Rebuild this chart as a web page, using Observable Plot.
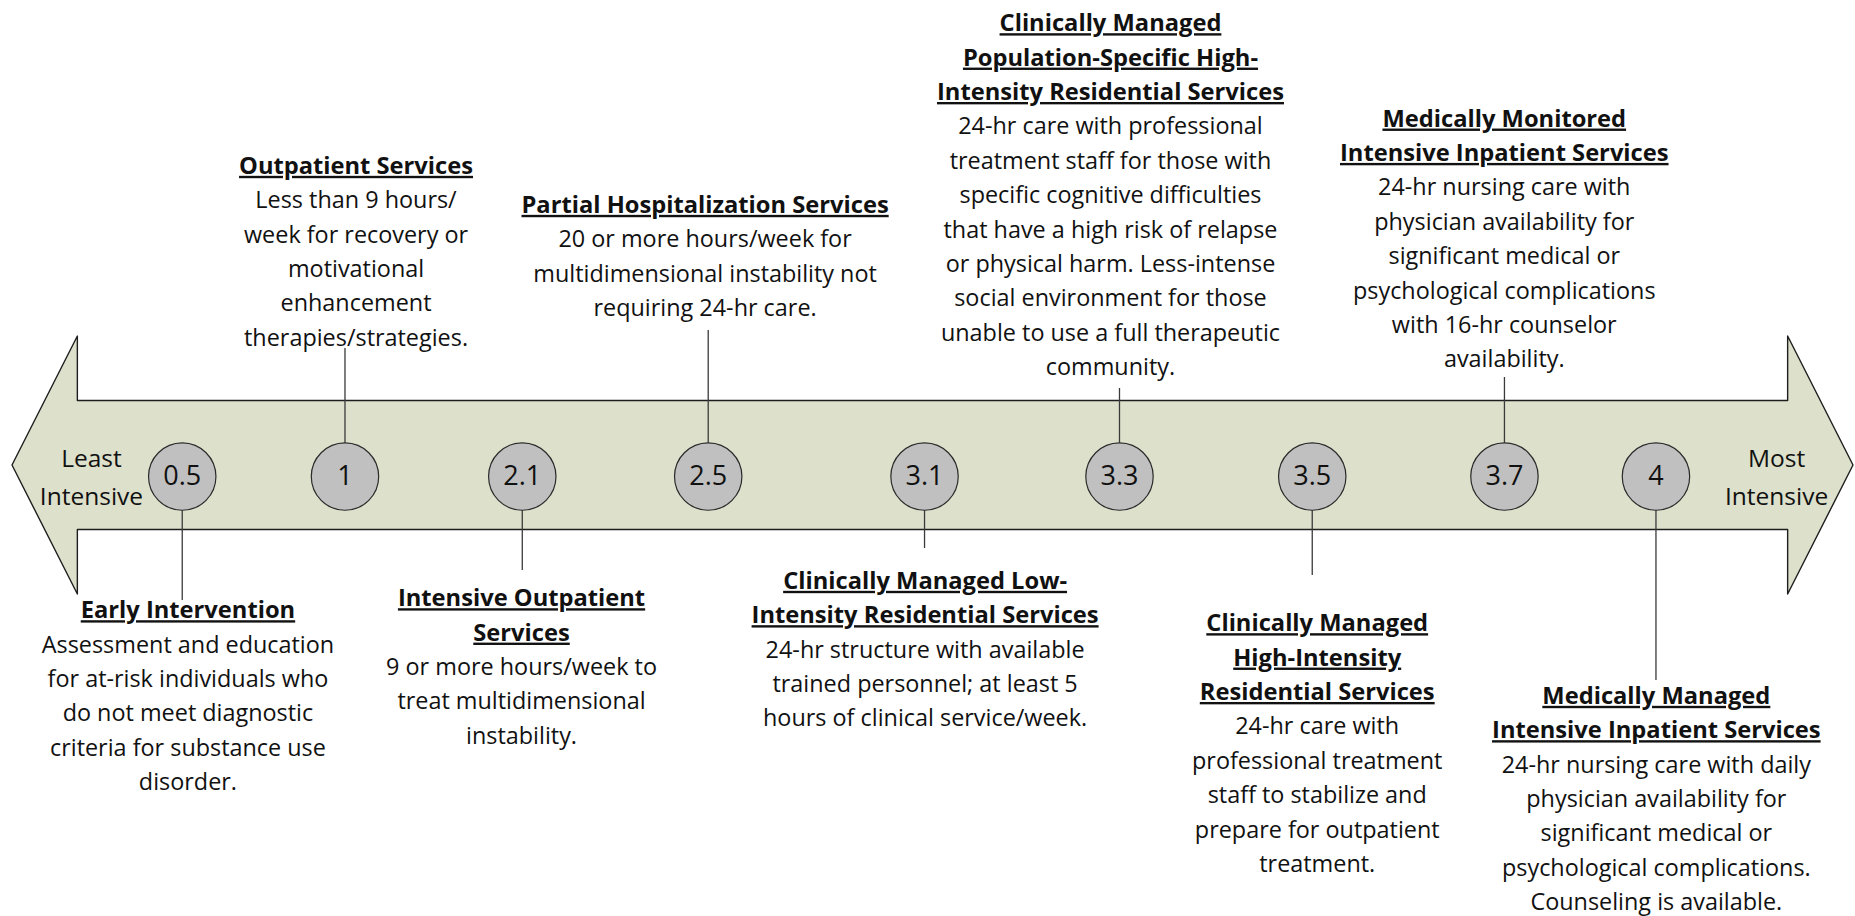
<!DOCTYPE html>
<html>
<head>
<meta charset="utf-8">
<script src="https://cdn.jsdelivr.net/npm/d3@7"></script>
<script src="https://cdn.jsdelivr.net/npm/@observablehq/plot@0.6"></script>
<style>
  html, body { margin: 0; padding: 0; background: #ffffff; }
  #chart svg g[font-weight="bold"] text { text-decoration: underline; text-decoration-thickness: 1.6px; }
</style>
</head>
<body>
<div id="chart"></div>
<script>
// ---- Data ----
// Levels of care along the continuum; x = position along the arrow (% of arrow length)
const levels = ["0.5", "1", "2.1", "2.5", "3.1", "3.3", "3.5", "3.7", "4"];
const levelPos = [9.22, 18.06, 27.69, 37.79, 49.54, 60.13, 70.60, 81.04, 89.27];
const labelPos = [9.53, 18.66, 27.65, 37.62, 49.57, 59.64, 70.87, 81.03, 89.29];
// vertical values in units of the arrow shaft half-height (0 = arrow centre line)
const circleLevel = -0.171;
const leaderEnd = [-2.093, 1.814, -1.628, 2.093, -1.287, 1.194, -1.705, 1.364, -3.333];
const labelTop = [-1.989, 4.901, -1.803, 4.296, -1.533, 7.112, -2.190, 5.634, -3.316];

const titles = [
  ["Early Intervention"],
  ["Outpatient Services"],
  ["Intensive Outpatient", "Services"],
  ["Partial Hospitalization Services"],
  ["Clinically Managed Low-", "Intensity Residential Services"],
  ["Clinically Managed", "Population-Specific High-", "Intensity Residential Services"],
  ["Clinically Managed", "High-Intensity", "Residential Services"],
  ["Medically Monitored", "Intensive Inpatient Services"],
  ["Medically Managed", "Intensive Inpatient Services"]
];
const descriptions = [
  ["Assessment and education", "for at-risk individuals who", "do not meet diagnostic", "criteria for substance use", "disorder."],
  ["Less than 9 hours/", "week for recovery or", "motivational", "enhancement", "therapies/strategies."],
  ["9 or more hours/week to", "treat multidimensional", "instability."],
  ["20 or more hours/week for", "multidimensional instability not", "requiring 24-hr care."],
  ["24-hr structure with available", "trained personnel; at least 5", "hours of clinical service/week."],
  ["24-hr care with professional", "treatment staff for those with", "specific cognitive difficulties", "that have a high risk of relapse", "or physical harm. Less-intense", "social environment for those", "unable to use a full therapeutic", "community."],
  ["24-hr care with", "professional treatment", "staff to stabilize and", "prepare for outpatient", "treatment."],
  ["24-hr nursing care with", "physician availability for", "significant medical or", "psychological complications", "with 16-hr counselor", "availability."],
  ["24-hr nursing care with daily", "physician availability for", "significant medical or", "psychological complications.", "Counseling is available."]
];

const endLabels = ["Least\nIntensive", "Most\nIntensive"];
const endPos = [4.29, 95.82];
const endLevel = -0.133;

// Arrow outline (x along arrow, top / bottom edges)
const arrowX = [0, 3.55, 3.55, 96.45, 96.45, 100];
const arrowTop = [0, 2, 1, 1, 2, 0];
const arrowBottom = [0, -2, -1, -1, -2, 0];

// ---- Build tables ----
const arrow = arrowX.map((x, i) => ({x, top: arrowTop[i], bottom: arrowBottom[i]}));
const items = levels.map((level, i) => ({
  level,
  pos: levelPos[i],
  lpos: labelPos[i],
  end: leaderEnd[i],
  top: labelTop[i],
  title: titles[i].join("\n"),
  body: titles[i].map(() => "").concat(descriptions[i]).join("\n")
}));
const ends = endLabels.map((t, i) => ({t, x: endPos[i]}));

const font = "'Open Sans', sans-serif";
const ink = "#111111";
const linePx = 34.4;
const titleSize = 23.7, bodySize = 23.4;

const chart = Plot.plot({
  width: 1855,
  height: 916,
  marginTop: 0,
  marginBottom: 0,
  marginLeft: 12,
  marginRight: 2,
  x: {domain: [0, 100], axis: null},
  y: {domain: [-6.9922, 7.2093], axis: null},
  style: {background: "#ffffff", fontFamily: font, overflow: "visible"},
  marks: [
    Plot.areaY(arrow, {x: "x", y1: "bottom", y2: "top", curve: "linear", fill: "#dde0cb", stroke: "#1e1e1e", strokeWidth: 1.4}),
    Plot.ruleX(items, {x: "pos", y1: () => circleLevel, y2: "end", stroke: "#3a3a3a", strokeWidth: 1.3}),
    Plot.dot(items, {x: "pos", y: () => circleLevel, r: 33.7, fill: "#c0c0c0", stroke: "#2a2a2a", strokeWidth: 1.2}),
    Plot.text(items, {x: "pos", y: () => circleLevel, text: "level", fontSize: 27, fill: ink, textAnchor: "middle", lineAnchor: "middle", fontFamily: font}),
    Plot.text(ends, {x: "x", y: () => endLevel, text: "t", fontSize: 24.5, lineHeight: 1.56, fill: ink, textAnchor: "middle", lineAnchor: "middle", fontFamily: font}),
    Plot.text(items, {x: "lpos", y: "top", text: "title", fontSize: titleSize, lineHeight: linePx / titleSize, fontWeight: "bold", fill: ink, textAnchor: "middle", lineAnchor: "top", fontFamily: font}),
    Plot.text(items, {x: "lpos", y: "top", text: "body", fontSize: bodySize, lineHeight: linePx / bodySize, fill: ink, textAnchor: "middle", lineAnchor: "top", fontFamily: font})
  ]
});

document.getElementById("chart").appendChild(chart);
</script>
</body>
</html>
